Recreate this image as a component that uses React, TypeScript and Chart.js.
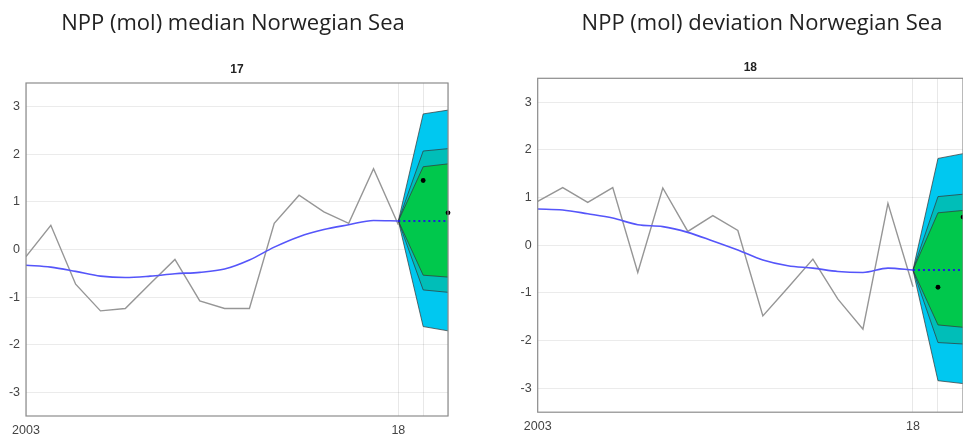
import React, { useEffect, useRef } from "react";
import { Chart, registerables } from "chart.js";

Chart.register(...registerables);

// ---------- data ----------
const years = [2003, 2004, 2005, 2006, 2007, 2008, 2009, 2010, 2011, 2012, 2013, 2014, 2015, 2016, 2017, 2018];
const fanYears = [2018, 2019, 2020];
const dotYears = [2019, 2020];
const xTickValues = [2003, 2018, 2019, 2020];
const xTickLabels = ["2003", "18", "", ""];
const yTickValues = [-3, -2, -1, 0, 1, 2, 3];

// Left panel: median
const medianObserved = [-0.15, 0.51, -0.73, -1.29, -1.24, -0.72, -0.21, -1.08, -1.24, -1.24, 0.55, 1.14, 0.79, 0.55, 1.7, 0.52];
const medianTrend = [-0.33, -0.37, -0.46, -0.56, -0.59, -0.56, -0.51, -0.48, -0.41, -0.22, 0.05, 0.27, 0.42, 0.52, 0.61, 0.6];
const medianForecast = [0.6, 0.6, 0.6];
const medianOuterUpper = [0.6, 2.85, 2.93];
const medianOuterLower = [0.6, -1.62, -1.71];
const medianMidUpper = [0.6, 2.07, 2.12];
const medianMidLower = [0.6, -0.85, -0.9];
const medianInnerUpper = [0.6, 1.74, 1.8];
const medianInnerLower = [0.6, -0.54, -0.58];
const medianDots = [1.45, 0.77];

// Right panel: deviation
const deviationObserved = [0.92, 1.21, 0.9, 1.21, -0.57, 1.2, 0.29, 0.62, 0.31, -1.48, -0.89, -0.29, -1.13, -1.76, 0.88, -0.87];
const deviationTrend = [0.76, 0.74, 0.66, 0.57, 0.43, 0.39, 0.27, 0.09, -0.1, -0.31, -0.43, -0.48, -0.55, -0.57, -0.48, -0.52];
const deviationForecast = [-0.52, -0.52, -0.52];
const deviationOuterUpper = [-0.52, 1.82, 1.92];
const deviationOuterLower = [-0.52, -2.84, -2.9];
const deviationMidUpper = [-0.52, 1.02, 1.07];
const deviationMidLower = [-0.52, -2.04, -2.07];
const deviationInnerUpper = [-0.52, 0.68, 0.73];
const deviationInnerLower = [-0.52, -1.67, -1.72];
const deviationDots = [-0.88, 0.59];

const pts = (xs: number[], ys: number[]) => xs.map((x, i) => ({ x, y: ys[i] }));

interface PanelData {
  title: string;
  subtitle: string;
  observed: number[];
  trend: number[];
  forecast: number[];
  outerUpper: number[];
  outerLower: number[];
  midUpper: number[];
  midLower: number[];
  innerUpper: number[];
  innerLower: number[];
  dots: number[];
}

interface PanelLayout {
  left: number;
  width: number;
  yAxisWidth: number;
  rightSpace: number;
  xAxisHeight: number;
  titleBottom: number;
  subtitleBottom: number;
}

const EDGE = "rgba(55,55,55,0.9)";
const CYAN = "#00C8F0";
const TEAL = "#00BEB8";
const GREEN = "#00C84C";

const boxPlugin = {
  id: "boxOutline",
  afterDatasetsDraw(chart: any) {
    const { ctx, chartArea: a } = chart;
    ctx.save();
    ctx.strokeStyle = "rgb(140,140,140)";
    ctx.lineWidth = 1.2;
    ctx.strokeRect(a.left, a.top, a.right - a.left, a.bottom - a.top);
    ctx.restore();
  },
};

function Panel({ data, layout }: { data: PanelData; layout: PanelLayout }) {
  const ref = useRef<HTMLCanvasElement | null>(null);
  useEffect(() => {
    if (!ref.current) return;
    const band = (upper: number[], lower: number[], color: string) => [
      {
        data: pts(fanYears, upper),
        borderColor: EDGE,
        borderWidth: 0.8,
        backgroundColor: color,
        fill: "+1",
        pointRadius: 0,
      },
      {
        data: pts(fanYears, lower),
        borderColor: EDGE,
        borderWidth: 0.8,
        backgroundColor: color,
        fill: false,
        pointRadius: 0,
      },
    ];
    const chart = new Chart(ref.current, {
      type: "line",
      data: {
        datasets: [
          {
            data: pts(dotYears, data.dots),
            showLine: false,
            pointRadius: 2.4,
            pointBackgroundColor: "#000",
            pointBorderColor: "#000",
            pointBorderWidth: 0,
            clip: 8,
          } as any,
          {
            data: pts(fanYears, data.forecast),
            borderColor: "rgb(30,30,225)",
            borderWidth: 2,
            borderDash: [2, 3],
            pointRadius: 0,
            fill: false,
          },
          {
            data: pts(years, data.trend),
            borderColor: "rgb(85,85,250)",
            borderWidth: 1.6,
            pointRadius: 0,
            cubicInterpolationMode: "monotone",
            fill: false,
          },
          {
            data: pts(years, data.observed),
            borderColor: "rgb(150,150,150)",
            borderWidth: 1.4,
            pointRadius: 0,
            fill: false,
          },
          ...band(data.innerUpper, data.innerLower, GREEN),
          ...band(data.midUpper, data.midLower, TEAL),
          ...band(data.outerUpper, data.outerLower, CYAN),
        ] as any,
      },
      options: {
        animation: false,
        responsive: true,
        maintainAspectRatio: false,
        layout: { padding: 0 },
        plugins: {
          legend: { display: false },
          tooltip: { enabled: false },
          filler: { drawTime: "beforeDatasetsDraw" },
          title: {
            display: true,
            text: data.title,
            color: "#222",
            font: { family: "'Open Sans', sans-serif", size: 22, weight: "normal" },
            padding: { top: 10.8, bottom: layout.titleBottom },
          },
          subtitle: {
            display: true,
            text: data.subtitle,
            color: "#222",
            font: { family: "'Liberation Sans', Arial, sans-serif", size: 12, weight: "bold" },
            padding: { top: 0, bottom: layout.subtitleBottom },
            fullSize: false,
          } as any,
        },
        scales: {
          x: {
            type: "linear",
            min: 2003,
            max: 2020,
            afterBuildTicks: (s: any) => {
              s.ticks = xTickValues.map((v) => ({ value: v }));
            },
            afterFit: (s: any) => {
              s.height = layout.xAxisHeight;
            },
            grid: { color: "rgba(0,0,0,0.09)", drawTicks: false },
            border: { display: false },
            ticks: {
              autoSkip: false,
              maxRotation: 0,
              padding: 7,
              color: "#444",
              font: { family: "'Liberation Sans', Arial, sans-serif", size: 12.5 },
              callback: (v: any) => {
                const i = xTickValues.indexOf(Number(v));
                return i >= 0 ? xTickLabels[i] : "";
              },
            },
          },
          y: {
            type: "linear",
            min: -3.5,
            max: 3.5,
            afterBuildTicks: (s: any) => {
              s.ticks = yTickValues.map((v) => ({ value: v }));
            },
            afterFit: (s: any) => {
              s.width = layout.yAxisWidth;
            },
            grid: { color: "rgba(0,0,0,0.08)", drawTicks: false },
            border: { display: false },
            ticks: {
              padding: 6,
              color: "#444",
              font: { family: "'Liberation Sans', Arial, sans-serif", size: 12.5 },
            },
          },
          yRightSpace: {
            type: "linear",
            position: "right",
            display: true,
            afterFit: (s: any) => {
              s.width = layout.rightSpace;
            },
            grid: { display: false, drawTicks: false },
            border: { display: false },
            ticks: { display: false },
          },
        } as any,
      },
      plugins: [boxPlugin],
    });
    return () => chart.destroy();
  }, [data, layout]);

  return (
    <div
      style={{
        position: "absolute",
        left: layout.left,
        top: 0,
        width: layout.width,
        height: 439,
      }}
    >
      <canvas ref={ref} />
    </div>
  );
}

const medianPanel: PanelData = {
  title: "NPP (mol) median Norwegian Sea",
  subtitle: "17",
  observed: medianObserved,
  trend: medianTrend,
  forecast: medianForecast,
  outerUpper: medianOuterUpper,
  outerLower: medianOuterLower,
  midUpper: medianMidUpper,
  midLower: medianMidLower,
  innerUpper: medianInnerUpper,
  innerLower: medianInnerLower,
  dots: medianDots,
};

const deviationPanel: PanelData = {
  title: "NPP (mol) deviation Norwegian Sea",
  subtitle: "18",
  observed: deviationObserved,
  trend: deviationTrend,
  forecast: deviationForecast,
  outerUpper: deviationOuterUpper,
  outerLower: deviationOuterLower,
  midUpper: deviationMidUpper,
  midLower: deviationMidLower,
  innerUpper: deviationInnerUpper,
  innerLower: deviationInnerLower,
  dots: deviationDots,
};

const leftLayout: PanelLayout = {
  left: 0,
  width: 466,
  yAxisWidth: 26,
  rightSpace: 18,
  xAxisHeight: 23,
  titleBottom: 25.6,
  subtitleBottom: 5.8,
};

const rightLayout: PanelLayout = {
  left: 480,
  width: 564,
  yAxisWidth: 57.7,
  rightSpace: 81,
  xAxisHeight: 26.8,
  titleBottom: 23.6,
  subtitleBottom: 3.1,
};

export default function App() {
  return (
    <div
      style={{
        position: "fixed",
        left: 0,
        top: 0,
        width: 963,
        height: 439,
        overflow: "hidden",
        background: "#fff",
      }}
    >
      <Panel data={medianPanel} layout={leftLayout} />
      <Panel data={deviationPanel} layout={rightLayout} />
    </div>
  );
}
